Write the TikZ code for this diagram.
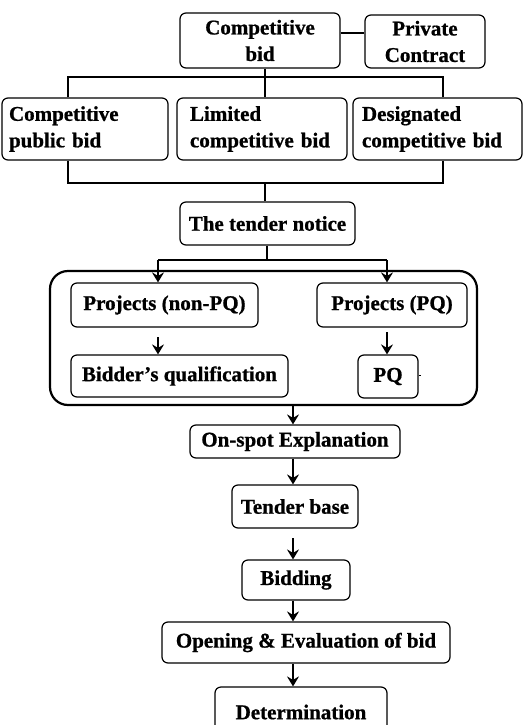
\documentclass[tikz,border=0pt]{standalone}
\usepackage{fontspec}
\setmainfont[BoldFeatures={FakeBold=0.8}]{Liberation Serif}
\usetikzlibrary{arrows.meta}
\tikzset{myhead/.tip={Stealth[length=10pt,width=12pt,inset=3.5pt]}}
\begin{document}
\begin{tikzpicture}[x=1pt,y=-1pt,
  box/.style={draw, rounded corners=6pt, line width=1.2pt, inner sep=0pt,
    font=\fontsize{21}{26.5}\selectfont\bfseries, align=center},
  lbox/.style={box, align=left},
  conn/.style={line width=1.8pt},
  arr/.style={line width=2pt, -myhead},
  container/.style={draw, rounded corners=18pt, line width=2.2pt, inner sep=0pt}]
\useasboundingbox (0,0) rectangle (523,725);
\clip (0,0) rectangle (523,725);
% top row
\node[box, minimum width=160pt, minimum height=55pt] (cb) at (260,40.5) {Competitive\\bid};
\node[box, minimum width=120pt, minimum height=53pt] (pc) at (425,41.5) {Private\\Contract};
\coordinate (ya) at (0,33);
\draw[conn] (cb.east |- ya) -- (pc.west |- ya);
% second row
\node[lbox, minimum width=166pt, minimum height=62pt, text width=152pt] (r1) at (85,129) {Competitive\\public bid};
\node[lbox, minimum width=170pt, minimum height=62pt, text width=144pt] (r2) at (262,129) {Limited\\competitive bid};
\node[lbox, minimum width=169pt, minimum height=62pt, text width=151pt] (r3) at (437.5,129) {Designated\\competitive bid};
% top bus
\coordinate (b1) at (68,77);
\coordinate (b2) at (265,77);
\coordinate (b3) at (443,77);
\draw[conn] (b2 |- cb.south) -- (b2);
\draw[conn] (b1 |- r1.north) -- (b1) -- (b3) -- (b3 |- r3.north);
\draw[conn] (b2) -- (b2 |- r2.north);
% bottom bus
\coordinate (c1) at (68,183);
\coordinate (c2) at (265,183);
\coordinate (c3) at (443,183);
\node[box, minimum width=175pt, minimum height=43pt] (tn) at (267.5,223.5) {The tender notice};
\draw[conn] (c1 |- r1.south) -- (c1) -- (c3) -- (c3 |- r3.south);
\draw[conn] (c2) -- (c2 |- tn.north);
% container
\node[container, minimum width=427pt, minimum height=134pt] (ct) at (263.5,338) {};
\node[box, minimum width=187pt, minimum height=44pt] (pn) at (164.5,305) {Projects (non-PQ)};
\node[box, minimum width=150pt, minimum height=44pt] (pp) at (392,305) {Projects (PQ)};
\node[box, minimum width=217pt, minimum height=42pt] (bq) at (179.5,376) {Bidder’s qualification};
\node[box, minimum width=60pt, minimum height=43pt] (pq) at (388,376.5) {PQ};
\coordinate (d0) at (267,260);
\coordinate (d1) at (158,260);
\coordinate (d2) at (387,260);
\draw[conn] (d0 |- tn.south) -- (d0);
\draw[conn] (d1) -- (d2);
\draw[arr] (d1) -- (d1 |- pn.north);
\draw[arr] (d2) -- (d2 |- pp.north);
\coordinate (e1) at (158,337);
\coordinate (e2) at (387,332);
\draw[arr] (e1) -- (e1 |- bq.north);
\draw[arr] (e2) -- (e2 |- pq.north);
\coordinate (pqt) at (421,375);
\draw[line width=1pt] (pq.east |- pqt) -- (pqt);
% lower chain
\node[box, minimum width=210pt, minimum height=33pt] (os) at (295,441.5) {On-spot Explanation};
\node[box, minimum width=126pt, minimum height=43pt] (tb) at (295,506.5) {Tender base};
\node[box, minimum width=108pt, minimum height=40pt] (bd) at (296,580) {Bidding};
\node[box, minimum width=288pt, minimum height=41pt] (oe) at (306,642.5) {Opening \& Evaluation of bid};
\node[box, minimum width=172pt, minimum height=50pt] (dt) at (301,712) {Determination};
\coordinate (m0) at (293,405);
\coordinate (m1) at (293,458);
\coordinate (m2) at (293,538);
\coordinate (m3) at (293,600);
\coordinate (m4) at (293,663);
\draw[arr] (m0 |- ct.south) -- (m0 |- os.north);
\draw[arr] (m1 |- os.south) -- (m1 |- tb.north);
\draw[arr] (m2) -- (m2 |- bd.north);
\draw[arr] (m3 |- bd.south) -- (m3 |- oe.north);
\draw[arr] (m4 |- oe.south) -- (m4 |- dt.north);
\end{tikzpicture}
\end{document}
